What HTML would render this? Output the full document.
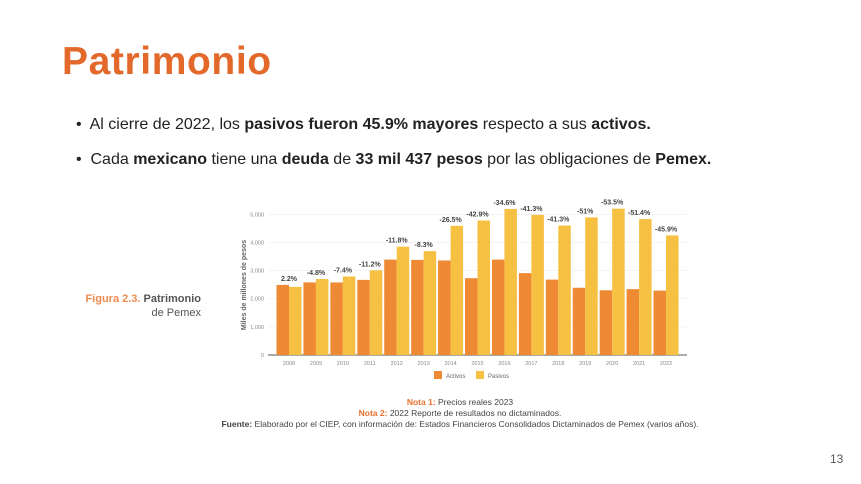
<!DOCTYPE html>
<html><head><meta charset="utf-8"><style>
body{margin:0;width:861px;height:484px;background:#fff;font-family:"Liberation Sans",sans-serif;position:relative;overflow:hidden}
.abs{position:absolute}
</style></head><body>
<div class="abs" style="left:62px;top:40px;font-size:39px;font-weight:bold;color:#e2692a;letter-spacing:0.6px">Patrimonio</div>
<div class="abs" style="left:76px;top:116px;font-size:16px;color:#222">•&nbsp; Al cierre de 2022, los <b>pasivos fueron 45.9% mayores</b> respecto a sus <b>activos.</b></div>
<div class="abs" style="left:76px;top:151px;font-size:16px;color:#222">•&nbsp; Cada <b>mexicano</b> tiene una <b>deuda</b> de <b>33 mil 437 pesos</b> por las obligaciones de <b>Pemex.</b></div>
<div class="abs" style="left:60px;top:292px;width:141px;text-align:right;font-size:11px;color:#555;line-height:14px"><b style="color:#ef8a50">Figura 2.3.</b> <b style="color:#555">Patrimonio</b><br>de Pemex</div>
<svg class="abs" style="left:0;top:0" width="861" height="484" id="chart"></svg>
<div class="abs" style="left:200px;top:397px;width:520px;text-align:center;font-size:8.5px;color:#444;line-height:11px">
<span style="color:#e8702a;font-weight:bold">Nota 1:</span> Precios reales 2023<br>
<span style="color:#e8702a;font-weight:bold">Nota 2:</span> 2022 Reporte de resultados no dictaminados.<br>
<b>Fuente:</b> Elaborado por el CIEP, con información de: Estados Financieros Consolidados Dictaminados de Pemex (varios años).</div>
<div class="abs" style="left:830px;top:452px;font-size:12px;color:#555">13</div>
<script>
const years=["2008","2009","2010","2011","2012","2013","2014","2015","2016","2017","2018","2019","2020","2021","2022"];
const activos=[2490,2580,2580,2670,3390,3380,3360,2730,3390,2910,2680,2390,2300,2340,2290];
const pasivos=[2420,2700,2790,3010,3850,3690,4590,4780,5190,4980,4600,4890,5200,4830,4250];
const pctLabels=["2.2%","-4.8%","-7.4%","-11.2%","-11.8%","-8.3%","-26.5%","-42.9%","-34.6%","-41.3%","-41.3%","-51%","-53.5%","-51.4%","-45.9%"];
const yTicks=[0,1000,2000,3000,4000,5000];
const NS="http://www.w3.org/2000/svg",svg=document.getElementById('chart');
const y0=355,pxPer=(355-214.3)/5000;
const yS=v=>y0-v*pxPer;
const xS=i=>289+i*26.93;
function mk(t,a,txt){const e=document.createElementNS(NS,t);for(const k in a)e.setAttribute(k,a[k]);if(txt!==undefined)e.textContent=txt;svg.appendChild(e);return e;}
yTicks.forEach(v=>{
 const g=mk('line',{x1:268,x2:687,y1:yS(v),y2:yS(v),stroke:v?'#eee':'#555','stroke-width':v?0.6:1});
 
 
 const t=mk('text',{x:264,y:yS(v)+2,'text-anchor':'end','font-size':5.5,fill:'#888'},v.toLocaleString('en-US'));
 
 
});
const yt=mk('text',{transform:'translate(246,285) rotate(-90)','text-anchor':'middle','font-size':7,'font-weight':'bold',fill:'#666'},'Miles de millones de pesos');


years.forEach((yr,i)=>{
 const cx=xS(i);
 const a=mk('rect',{x:cx-12.5,y:yS(activos[i]),width:12.5,height:activos[i]*pxPer,fill:'#ef8a34'});
 
 
 const p=mk('rect',{x:cx,y:yS(pasivos[i]),width:12.5,height:pasivos[i]*pxPer,fill:'#f6c142'});
 
 
 const top=Math.max(activos[i],pasivos[i]);
 const l=mk('text',{x:cx,y:yS(top)-4,'text-anchor':'middle','font-size':7,'font-weight':'bold',fill:'#444'},pctLabels[i]);
 
 
 const xl=mk('text',{x:cx,y:365,'text-anchor':'middle','font-size':5.5,fill:'#888'},yr);
 
 
});
const leg=[['Activos','#ef8a34',434],['Pasivos','#f6c142',476]];
leg.forEach(([n,c,x])=>{
 const r=mk('rect',{x:x,y:371,width:8,height:8,fill:c});
 
 
 const t=mk('text',{x:x+12,y:378,'font-size':6,fill:'#666'},n);
 
 
});
</script>
</body></html>
